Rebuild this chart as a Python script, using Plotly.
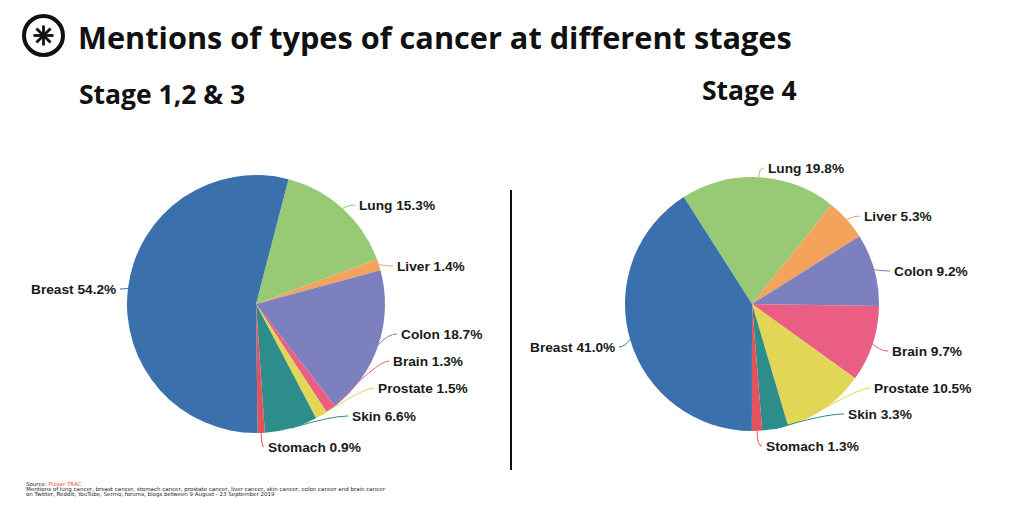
import math
import plotly.graph_objects as go

# ---------------- data ----------------
categories = ["Lung", "Liver", "Colon", "Brain", "Prostate", "Skin", "Stomach", "Breast"]
stage123_values = [15.3, 1.4, 18.7, 1.3, 1.5, 6.6, 0.9, 54.2]
stage4_values = [19.8, 5.3, 9.2, 9.7, 10.5, 3.3, 1.3, 41.0]
panel_titles = ["Stage 1,2 & 3", "Stage 4"]
main_title = "Mentions of types of cancer at different stages"

# ---------------- styles / layout ----------------
colors = ["#98c974", "#f4a35c", "#7c80bf", "#ea5e84", "#e2d656", "#2c8d8b", "#e4525c", "#3a70ac"]
W, H = 1024, 512
pies = [
    dict(values=stage123_values, cx=256, cy=304, r=129, rotation=14.6,
         label_pos=[(357, 205), (395, 266), (399, 334), (391, 361), (376, 388),
                    (350, 416), (266, 447), (118, 289)],
         bend=[0.5, 0.5, 0.5, 0.8, 0.8, 0.7, 0.0, 0.5]),
    dict(values=stage4_values, cx=752, cy=304, r=127, rotation=-32.5,
         label_pos=[(766, 168), (862, 216), (892, 271), (890, 351), (872, 388),
                    (846, 414), (764, 446), (617, 347)],
         bend=[0.0, 0.5, 0.5, 0.5, 0.8, 0.7, 0.0, 0.5]),
]
label_font = dict(family="Liberation Sans", size=13.7, color="#1a1a1a")


def px(x):
    return x / W


def py(y):
    return 1 - y / H


fig = go.Figure()
shapes = []
annotations = []

for p in pies:
    cx, cy, r = p["cx"], p["cy"], p["r"]
    fig.add_trace(go.Pie(
        labels=categories, values=p["values"], sort=False, direction="clockwise",
        rotation=p["rotation"], textinfo="none", hoverinfo="label+percent",
        marker=dict(colors=colors, line=dict(width=0)),
        domain=dict(x=[px(cx - r), px(cx + r)], y=[py(cy + r), py(cy - r)]),
        showlegend=False,
    ))
    total = sum(p["values"])
    ang = p["rotation"]
    for i, (cat, v) in enumerate(zip(categories, p["values"])):
        span = 360 * v / total
        mid = math.radians(ang + span / 2)
        ang += span
        ex, ey = cx + r * math.sin(mid), cy - r * math.cos(mid)
        lx, ly = p["label_pos"][i]
        left_side = math.sin(mid) < 0
        endx = lx + 2 if left_side else lx - 2
        b = p["bend"][i]
        ctrlx = ex + b * (endx - ex)
        shapes.append(dict(
            type="path", xref="paper", yref="paper",
            path=f"M {px(ex)} {py(ey)} Q {px(ctrlx)} {py(ly)} {px(endx)} {py(ly)}",
            line=dict(color=colors[i], width=1),
        ))
        annotations.append(dict(
            x=px(lx), y=py(ly), xref="paper", yref="paper", showarrow=False,
            text=f"<b>{cat} {v:.1f}%</b>", font=label_font,
            xanchor="right" if left_side else "left", yanchor="middle",
        ))

# titles
annotations.append(dict(x=px(76), y=py(37), xref="paper", yref="paper", showarrow=False,
                        text=f"<b>{main_title}</b>", xanchor="left", yanchor="middle",
                        font=dict(family="Open Sans", size=30.7, color="#111111")))
annotations.append(dict(x=px(77), y=py(94), xref="paper", yref="paper", showarrow=False,
                        text=f"<b>{panel_titles[0]}</b>", xanchor="left", yanchor="middle",
                        font=dict(family="Open Sans", size=26.5, color="#111111")))
annotations.append(dict(x=px(749), y=py(90), xref="paper", yref="paper", showarrow=False,
                        text=f"<b>{panel_titles[1]}</b>", xanchor="center", yanchor="middle",
                        font=dict(family="Open Sans", size=26.5, color="#111111")))
# logo: circle with an 8-spoke asterisk
lcx, lcy, lr, spoke = 43.5, 35.5, 19.5, 10
shapes.append(dict(type="circle", xref="paper", yref="paper",
                   x0=px(lcx - lr), x1=px(lcx + lr), y0=py(lcy + lr), y1=py(lcy - lr),
                   line=dict(color="#111111", width=4)))
for deg in (0, 45, 90, 135):
    a = math.radians(deg)
    dx, dy = spoke * math.sin(a), spoke * math.cos(a)
    shapes.append(dict(type="line", xref="paper", yref="paper",
                       x0=px(lcx - dx), x1=px(lcx + dx), y0=py(lcy + dy), y1=py(lcy - dy),
                       line=dict(color="#111111", width=2.8)))
# divider
shapes.append(dict(type="line", xref="paper", yref="paper",
                   x0=px(511), x1=px(511), y0=py(190), y1=py(470),
                   line=dict(color="#111111", width=2)))
# source
src_lines = [
    "Source: <span style='color:#e0574f'>Pulsar TRAC</span>",
    "Mentions of lung cancer, breast cancer, stomach cancer, prostate cancer, liver cancer, skin cancer, colon cancer and brain cancer",
    "on Twitter, Reddit, YouTube, Sermo, forums, blogs between 9 August - 23 September 2019",
]
for k, t in enumerate(src_lines):
    annotations.append(dict(x=px(24), y=py(484 + 5.2 * k), xref="paper", yref="paper",
                            showarrow=False, text=t, xanchor="left", yanchor="middle",
                            font=dict(family="DejaVu Sans", size=5.5, color="#222222")))

fig.update_layout(
    width=W, height=H, margin=dict(l=0, r=0, t=0, b=0),
    paper_bgcolor="white", plot_bgcolor="white",
    shapes=shapes, annotations=annotations,
)
fig.write_html("out.html", config={"displayModeBar": False},
               post_script="document.body.style.margin='0';document.body.style.overflow='hidden';")
